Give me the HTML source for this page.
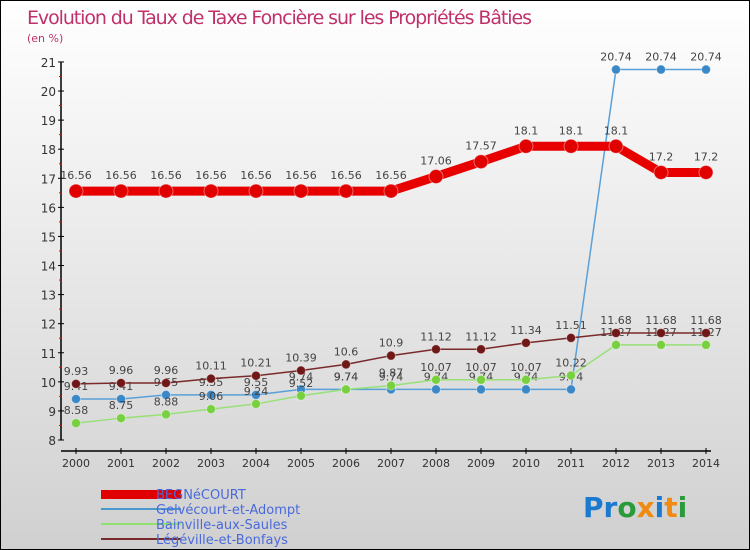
<!DOCTYPE html>
<html><head><meta charset="utf-8"><style>
body{margin:0}
#c{width:750px;height:550px;position:relative;box-sizing:border-box;border:1px solid #000;background:linear-gradient(#fff,#d0d0d0);font-family:"DejaVu Sans","Liberation Sans",sans-serif;overflow:hidden}
svg text{font-family:"DejaVu Sans","Liberation Sans",sans-serif}
</style></head><body>
<div id="c">
<svg id="s" width="750" height="550">
<text x="26" y="23" font-size="19" fill="#c0306a" textLength="505">Evolution du Taux de Taxe Foncière sur les Propriétés Bâties</text>
<text x="26" y="41" font-size="11" fill="#c0306a">(en %)</text>
<g id="axes"></g><g id="series"></g>
<g>
<rect x="100" y="489" width="80" height="9" fill="#e00000"/>
<text x="155" y="498" font-size="13" fill="#4a6adc">BEGNéCOURT</text>
<line x1="100" y1="508" x2="180" y2="508" stroke="#4a98d0" stroke-width="2"/>
<text x="155" y="513" font-size="13" fill="#4a6adc">Gelvécourt-et-Adompt</text>
<line x1="100" y1="523" x2="180" y2="523" stroke="#90e070" stroke-width="2"/>
<text x="155" y="528" font-size="13" fill="#4a6adc">Bainville-aux-Saules</text>
<line x1="100" y1="538" x2="180" y2="538" stroke="#7a2a2a" stroke-width="2"/>
<text x="155" y="543" font-size="13" fill="#4a6adc">Légéville-et-Bonfays</text>
</g>
<g font-size="28" font-weight="bold">
<text x="582" y="516"><tspan fill="#1a7ad0">Pr</tspan><tspan fill="#2a9a3a">o</tspan><tspan fill="#f08a10">x</tspan><tspan fill="#1a7ad0">i</tspan><tspan fill="#f08a10">t</tspan><tspan fill="#2a9a3a">i</tspan></text>
</g>
</svg></div>
<script>
const years=[2000,2001,2002,2003,2004,2005,2006,2007,2008,2009,2010,2011,2012,2013,2014];
const begnecourt=[16.56,16.56,16.56,16.56,16.56,16.56,16.56,16.56,17.06,17.57,18.1,18.1,18.1,17.2,17.2];
const gelvecourt=[9.41,9.41,9.55,9.55,9.55,9.74,9.74,9.74,9.74,9.74,9.74,9.74,20.74,20.74,20.74];
const bainville=[8.58,8.75,8.88,9.06,9.24,9.52,9.74,9.87,10.07,10.07,10.07,10.22,11.27,11.27,11.27];
const legeville=[9.93,9.96,9.96,10.11,10.21,10.39,10.6,10.9,11.12,11.12,11.34,11.51,11.68,11.68,11.68];
const yTicks=[8,9,10,11,12,13,14,15,16,17,18,19,20,21];
const NS="http://www.w3.org/2000/svg";
const xs=i=>75+i*45, ys=v=>439-(v-8)*29.08;
function mk(t,a,p){const e=document.createElementNS(NS,t);for(const k in a)e.setAttribute(k,a[k]);p.appendChild(e);return e;}
const ax=document.getElementById('axes');
let yl=mk('line',{x1:60,y1:ys(21),x2:60,y2:ys(8),stroke:'#000','stroke-width':1.5},ax);


let xl=mk('line',{x1:60,y1:450,x2:710,y2:450,stroke:'#000','stroke-width':1.5},ax);


yTicks.forEach(v=>{const y=ys(v);
mk('line',{x1:57,y1:y,x2:63,y2:y,stroke:'#000'},ax);
if(v<21)mk('line',{x1:58,y1:ys(v+0.5),x2:61,y2:ys(v+0.5),stroke:'#e00'},ax);
const t=mk('text',{x:55,y:y+5,'font-size':12,fill:'#333','text-anchor':'end'},ax);t.textContent=v;

});
years.forEach((yr,i)=>{const x=xs(i);mk('line',{x1:x,y1:447,x2:x,y2:453,stroke:'#000'},ax);
const t=mk('text',{x:x,y:466,'font-size':11,fill:'#333','text-anchor':'middle'},ax);t.textContent=yr;

});
const sg=document.getElementById('series');
function draw(name,vals,col,w,r,dot,lblOff){
const g=mk('g',{},sg);


const p=mk('polyline',{points:vals.map((v,i)=>xs(i)+','+ys(v)).join(' '),fill:'none',stroke:col,'stroke-width':w,'stroke-linejoin':'round'},g);


vals.forEach((v,i)=>{const c=mk('circle',{cx:xs(i),cy:ys(v),r:r,fill:dot,stroke:'#fff','stroke-opacity':0.4},g);


const t=mk('text',{x:xs(i),y:ys(v)+lblOff,'font-size':11,fill:'#444','text-anchor':'middle'},g);t.textContent=v;

});}
draw('gelvecourt',gelvecourt,'#5aa0d8',1.5,4.5,'#3a88c8',-9);
draw('bainville',bainville,'#98e078',1.5,4.5,'#78d040',-9);
draw('legeville',legeville,'#7a2a2a',1.5,4.5,'#701818',-9);
draw('begnecourt',begnecourt,'#e80000',9,7,'#e00000',-12);
</script>
</body></html>
